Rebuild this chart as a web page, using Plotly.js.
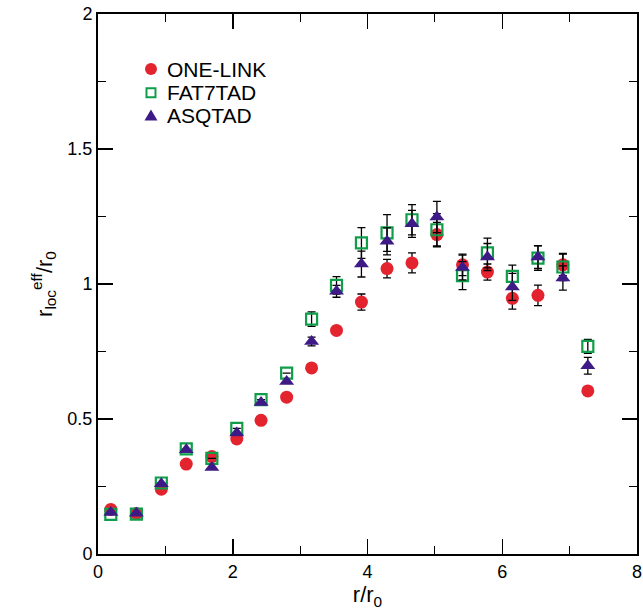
<!DOCTYPE html>
<html>
<head>
<meta charset="utf-8">
<script src="https://cdn.plot.ly/plotly-3.0.1.min.js"></script>
<style>html,body{margin:0;padding:0;background:#fff;}#chart{width:643px;height:616px;}</style>
</head>
<body>
<div id="chart"></div>
<script>
const rOverR0 = [0.19, 0.57, 0.94, 1.31, 1.69, 2.06, 2.42, 2.80, 3.17, 3.54, 3.91, 4.29, 4.66, 5.03, 5.41, 5.78, 6.15, 6.53, 6.90, 7.27];

const oneLink    = [0.165, 0.150, 0.240, 0.333, 0.361, 0.426, 0.495, 0.581, 0.689, 0.828, 0.933, 1.057, 1.078, 1.183, 1.071, 1.044, 0.947, 0.958, 1.071, 0.604];
const oneLinkErr = [0, 0, 0, 0, 0, 0, 0, 0, 0, 0.012, 0.030, 0.034, 0.037, 0.045, 0.040, 0.030, 0.040, 0.038, 0.040, 0.010];

const fat7tad    = [0.147, 0.148, 0.263, 0.389, 0.354, 0.465, 0.572, 0.670, 0.870, 0.995, 1.152, 1.189, 1.238, 1.201, 1.031, 1.115, 1.028, 1.096, 1.063, 0.769];
const fat7tadErr = [0, 0, 0, 0, 0, 0, 0, 0, 0.027, 0.032, 0.057, 0.068, 0.056, 0.060, 0.052, 0.055, 0.042, 0.045, 0.050, 0.026];

const asqtad     = [0.154, 0.151, 0.260, 0.386, 0.320, 0.448, 0.561, 0.639, 0.787, 0.973, 1.074, 1.158, 1.223, 1.248, 1.061, 1.100, 0.989, 1.100, 1.022, 0.697];
const asqtadErr  = [0, 0, 0, 0, 0, 0, 0, 0, 0.016, 0.022, 0.048, 0.050, 0.050, 0.058, 0.046, 0.050, 0.050, 0.042, 0.045, 0.031];

const seriesNames = ["ONE-LINK", "FAT7TAD", "ASQTAD"];
const seriesColors = ['#e3242f', '#0f9d4a', '#3e1a86'];
const xTickVals = [0, 2, 4, 6, 8];
const yTickVals = [0, 0.5, 1, 1.5, 2];
const yTickText = ["0", "0.5", "1", "1.5", "2"];

const FONT = 'Liberation Sans, Arial, Helvetica, sans-serif';
const errStyle = (arr) => ({type: 'data', array: arr, visible: true, color: '#000', thickness: 1.3, width: 4});

const traces = [
  {x: rOverR0, y: oneLink, name: seriesNames[0], type: 'scatter', mode: 'markers',
   marker: {symbol: 'circle', size: 13, color: seriesColors[0]}, error_y: errStyle(oneLinkErr)},
  {x: rOverR0, y: fat7tad, name: seriesNames[1], type: 'scatter', mode: 'markers',
   marker: {symbol: 'square-open', size: 11, color: seriesColors[1], line: {width: 2.2, color: seriesColors[1]}}, error_y: errStyle(fat7tadErr)},
  {x: rOverR0, y: asqtad, name: seriesNames[2], type: 'scatter', mode: 'markers',
   marker: {symbol: 'triangle-up', size: 13, color: seriesColors[2]}, error_y: errStyle(asqtadErr)}
];

// custom legend (symbols as pixel-sized shapes, names as annotations)
const legX = 0.0983, legTextX = 0.125;
const legY = [0.898, 0.854, 0.812];
const shapes = [
  {type: 'circle', xref: 'paper', yref: 'paper', xsizemode: 'pixel', ysizemode: 'pixel',
   xanchor: legX, yanchor: legY[0], x0: -6, x1: 6, y0: -6, y1: 6,
   fillcolor: seriesColors[0], line: {width: 0}},
  {type: 'rect', xref: 'paper', yref: 'paper', xsizemode: 'pixel', ysizemode: 'pixel',
   xanchor: legX, yanchor: legY[1], x0: -4.5, x1: 4.5, y0: -4.5, y1: 4.5,
   fillcolor: 'rgba(0,0,0,0)', line: {width: 2, color: seriesColors[1]}},
  {type: 'path', xref: 'paper', yref: 'paper', xsizemode: 'pixel', ysizemode: 'pixel',
   xanchor: legX, yanchor: legY[2], path: 'M -6.5 -5 L 6.5 -5 L 0 6 Z',
   fillcolor: seriesColors[2], line: {width: 0}}
];
const annotations = seriesNames.map((n, i) => ({
  text: n, xref: 'paper', yref: 'paper', x: legTextX, y: legY[i], xanchor: 'left', yanchor: 'middle',
  showarrow: false, font: {family: FONT, size: 21, color: '#000'}
}));

const axisCommon = {
  showgrid: false, zeroline: false, showline: true, linecolor: '#000', linewidth: 2,
  mirror: 'ticks', ticks: 'inside', ticklen: 15, tickwidth: 1.5, tickcolor: '#000',
  tickfont: {family: FONT, size: 18, color: '#000'}
};

const layout = {
  width: 643, height: 616,
  margin: {l: 98, r: 6, t: 14, b: 62},
  paper_bgcolor: '#fff', plot_bgcolor: '#fff',
  showlegend: false,
  shapes: shapes,
  annotations: annotations,
  xaxis: Object.assign({}, axisCommon, {
    range: [0, 8], tickvals: xTickVals, ticktext: xTickVals.map(String),
    minor: {dtick: 1, tick0: 0, ticks: 'inside', ticklen: 8, tickwidth: 1.2, tickcolor: '#000'},
    title: {text: 'r/r<sub>0</sub>', font: {family: FONT, size: 22, color: '#000'}, standoff: 6}
  }),
  yaxis: Object.assign({}, axisCommon, {
    range: [0, 2], tickvals: yTickVals, ticktext: yTickText,
    minor: {dtick: 0.25, tick0: 0, ticks: 'inside', ticklen: 8, tickwidth: 1.2, tickcolor: '#000'},
    title: {text: 'r<sub>loc</sub><sup>eff</sup>/r<sub>0</sub>', font: {family: FONT, size: 22, color: '#000'}, standoff: 9}
  })
};

Plotly.newPlot('chart', traces, layout, {staticPlot: true, displayModeBar: false});
</script>
</body>
</html>
